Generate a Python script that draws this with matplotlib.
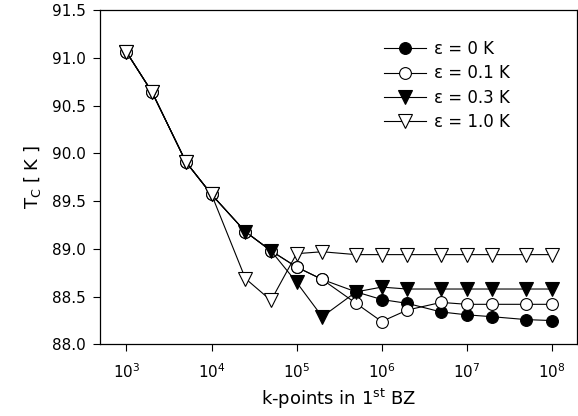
import numpy as np
import matplotlib
matplotlib.use('Agg')
import matplotlib.pyplot as plt

plt.rcParams['font.family'] = ['DejaVu Sans']
plt.rcParams['mathtext.fontset'] = 'dejavusans'

# k-points
kpts = [1e3, 2e3, 5e3, 1e4, 2.5e4, 5e4, 1e5, 2e5, 5e5, 1e6, 2e6, 5e6, 1e7, 2e7, 5e7, 1e8]

tc_eps0 = [91.06, 90.64, 89.91, 89.57, 89.18, 88.98, 88.81, 88.68, 88.55, 88.47,
           88.43, 88.34, 88.31, 88.29, 88.26, 88.25]
tc_eps01 = [91.06, 90.64, 89.91, 89.57, 89.18, 88.98, 88.81, 88.68, 88.43, 88.24,
            88.36, 88.44, 88.42, 88.42, 88.42, 88.42]
tc_eps03 = [91.06, 90.64, 89.91, 89.57, 89.18, 88.98, 88.65, 88.29, 88.55, 88.60,
            88.58, 88.58, 88.58, 88.58, 88.58, 88.58]
tc_eps10 = [91.06, 90.64, 89.91, 89.57, 88.69, 88.46, 88.95, 88.97, 88.94, 88.94,
            88.94, 88.94, 88.94, 88.94, 88.94, 88.94]

labels = ['ε = 0 K', 'ε = 0.1 K', 'ε = 0.3 K', 'ε = 1.0 K']

fig = plt.figure(figsize=(5.78, 4.16), dpi=100)
ax = fig.add_axes([0.173, 0.172, 0.825, 0.804])

ms = 8.5
ax.plot(kpts, tc_eps0, '-', color='k', lw=0.8, marker='o', ms=ms,
        mfc='k', mec='k', mew=0.8, label=labels[0])
ax.plot(kpts, tc_eps01, '-', color='k', lw=0.8, marker='o', ms=ms,
        mfc='white', mec='k', mew=0.8, label=labels[1])
ax.plot(kpts, tc_eps03, '-', color='k', lw=0.8, marker='v', ms=ms + 1,
        mfc='k', mec='k', mew=0.8, label=labels[2])
ax.plot(kpts, tc_eps10, '-', color='k', lw=0.8, marker='v', ms=ms + 1,
        mfc='white', mec='k', mew=0.8, label=labels[3])

ax.set_xscale('log')
ax.set_xlim(10 ** 2.689, 10 ** 8.294)
ax.set_ylim(88.0, 91.5)
ax.set_yticks(np.arange(88.0, 91.51, 0.5))
ax.set_yticklabels(['%.1f' % v for v in np.arange(88.0, 91.51, 0.5)])
ax.set_xticks([1e3, 1e4, 1e5, 1e6, 1e7, 1e8])
ax.minorticks_off()
ax.tick_params(axis='both', direction='out', length=5, width=0.8,
               labelsize=11, top=False, right=False)
ax.tick_params(axis='x', pad=8)
ax.tick_params(axis='y', pad=5)
for sp in ax.spines.values():
    sp.set_linewidth(0.9)

ax.set_xlabel('k-points in 1$^{\\mathrm{st}}$ BZ', fontsize=13, labelpad=4)
ax.set_ylabel('T$_{\\mathrm{C}}$ [ K ]', fontsize=13, labelpad=7)

ax.legend(loc='upper left', bbox_to_anchor=(0.565, 0.955), frameon=False,
          fontsize=12, handlelength=2.5, handletextpad=0.5, labelspacing=0.38)

fig.savefig('out.png', dpi=100)
